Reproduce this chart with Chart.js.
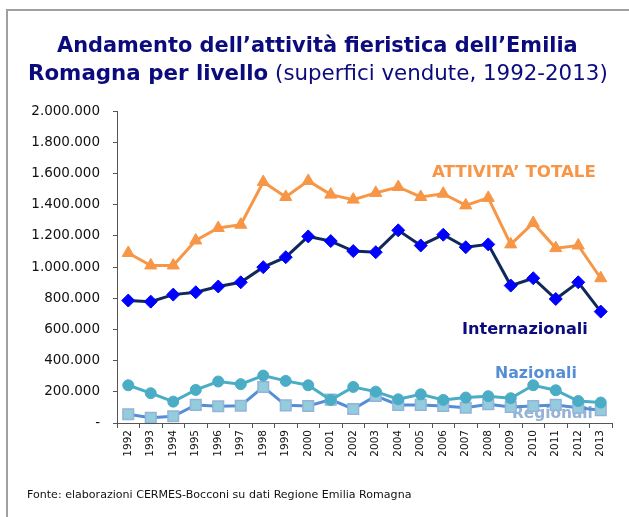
<!DOCTYPE html>
<html>
<head>
<meta charset="utf-8">
<script src="https://cdn.jsdelivr.net/npm/chart.js@4.4.1/dist/chart.umd.min.js"></script>
<style>
  html, body { margin:0; padding:0; background:#fff; }
  #wrap { position:relative; width:629px; height:517px; overflow:hidden; }
  #frame { position:absolute; left:6px; top:9px; width:640px; height:540px; border-left:2px solid #a0a0a0; border-top:2px solid #a0a0a0; }
  canvas { position:absolute; left:0; top:0; }
  .t { position:absolute; white-space:nowrap; font-family:"DejaVu Sans", Verdana, sans-serif; color:#0b0b7d; line-height:1; }
  #t1 { font-weight:bold; }
  #src { font-family:"DejaVu Sans", Tahoma, sans-serif; color:#111; }
</style>
</head>
<body>
<div id="wrap">
  <div id="frame"></div>
  <canvas id="c" width="629" height="517"></canvas>
  <div class="t" id="t1">Andamento dell’attività fieristica dell’Emilia</div>
  <div class="t" id="t2"><b>Romagna per livello</b> (superfici vendute, 1992-2013)</div>
  <div class="t" id="src">Fonte: elaborazioni CERMES-Bocconi su dati Regione Emilia Romagna</div>
</div>
<script>
const years = ['1992','1993','1994','1995','1996','1997','1998','1999','2000','2001','2002','2003','2004','2005','2006','2007','2008','2009','2010','2011','2012','2013'];
const totale = [1090000,1010000,1010000,1170000,1250000,1271000,1545000,1449000,1552000,1464000,1432000,1475000,1513000,1449000,1470000,1395000,1443000,1145000,1282000,1121000,1138000,928000];
const internazionali = [785000,778000,823000,838000,875000,902000,999000,1063000,1196000,1166000,1102000,1095000,1235000,1138000,1207000,1127000,1145000,881000,928000,795000,902000,714000];
const nazionali = [242000,191000,137000,212000,266000,249000,304000,270000,242000,148000,231000,201000,152000,184000,148000,163000,172000,159000,242000,210000,141000,131000];
const regionali = [56000,34000,43000,116000,107000,111000,231000,113000,109000,150000,90000,174000,116000,116000,109000,98000,120000,103000,109000,116000,98000,82000];
const yTicks = [0,200000,400000,600000,800000,1000000,1200000,1400000,1600000,1800000,2000000];

// series labels: text, anchor (category index, value), target width, colour
const seriesLabels = [
  {text:'ATTIVITA’ TOTALE', xi:17.14, v:1602000, w:164, color:'#f79646'},
  {text:'Internazionali',   xi:17.63, v:599000,  w:126, color:'#0b0b7d'},
  {text:'Nazionali',        xi:18.12, v:313000,  w:82,  color:'#558ed5'},
  {text:'Regionali',        xi:18.85, v:56000,   w:81,  color:'#95b3d7'}
];

function fmt(v){ if(v===0) return '-'; return String(v).replace(/\B(?=(\d{3})+(?!\d))/g,'.'); }

const labelPlugin = {
  id:'seriesLabels',
  beforeDatasetsDraw(chart){
    const ctx = chart.ctx, xs = chart.scales.x, ys = chart.scales.y;
    const step = xs.getPixelForValue(1) - xs.getPixelForValue(0);
    seriesLabels.forEach(l=>{
      ctx.save();
      ctx.font = 'bold 16px "DejaVu Sans"';
      const m = ctx.measureText(l.text).width;
      const size = 16 * l.w / m;
      ctx.font = 'bold ' + size.toFixed(2) + 'px "DejaVu Sans"';
      ctx.fillStyle = l.color;
      ctx.textAlign = 'center';
      ctx.textBaseline = 'middle';
      const x = xs.getPixelForValue(0) + l.xi * step;
      ctx.fillText(l.text, x, ys.getPixelForValue(l.v));
      ctx.restore();
    });
  }
};

new Chart(document.getElementById('c'), {
  type:'line',
  data:{
    labels: years,
    datasets:[
      {label:'ATTIVITA’ TOTALE', data:totale, borderColor:'#f79646', backgroundColor:'#f79646', borderWidth:3, pointStyle:'triangle', pointRadius:7, pointBorderWidth:1, pointBorderColor:'#f79646'},
      {label:'Internazionali', data:internazionali, borderColor:'#10285a', backgroundColor:'#0000ff', borderWidth:3, pointStyle:'rectRot', pointRadius:6.5, pointBorderWidth:1, pointBorderColor:'#0000ff'},
      {label:'Nazionali', data:nazionali, borderColor:'#4bacc6', backgroundColor:'#4bacc6', borderWidth:3, pointStyle:'circle', pointRadius:5.5, pointBorderWidth:1, pointBorderColor:'#4bacc6'},
      {label:'Regionali', data:regionali, borderColor:'#558ed5', backgroundColor:'#93cddd', borderWidth:3, pointStyle:'rect', pointRadius:7.5, pointBorderWidth:1.5, pointBorderColor:'#95b3d7'}
    ]
  },
  options:{
    responsive:false,
    animation:false,
    devicePixelRatio:1,
    layout:{padding:{top:111, right:17, left:0, bottom:0}},
    plugins:{legend:{display:false}, title:{display:false}, tooltip:{enabled:false}},
    elements:{line:{tension:0}},
    scales:{
      x:{
        offset:true,
        grid:{offset:true, drawOnChartArea:false, drawTicks:true, tickLength:5, tickColor:'#555', lineWidth:1},
        border:{display:true, color:'#555', width:1},
        ticks:{maxRotation:90, minRotation:90, autoSkip:false, padding:2, color:'#111', font:{family:'"DejaVu Sans"', size:10.5}},
        afterFit(s){ s.height = 94; }
      },
      y:{
        min:0, max:2000000,
        afterBuildTicks(s){ s.ticks = yTicks.map(v=>({value:v})); },
        grid:{drawOnChartArea:false, drawTicks:true, tickLength:4, tickColor:'#555'},
        border:{display:true, color:'#555', width:1},
        ticks:{padding:13, color:'#111', font:{family:'"DejaVu Sans"', size:13.5}, callback:(v)=>fmt(v)},
        afterFit(s){ s.width = 117; }
      }
    }
  },
  plugins:[labelPlugin]
});

function fit(id, targetW, left, top, base){
  const el = document.getElementById(id);
  el.style.fontSize = base + 'px';
  const w = el.getBoundingClientRect().width;
  const size = base * targetW / w;
  el.style.fontSize = size + 'px';
  el.style.left = left + 'px';
  el.style.top = top + 'px';
}
fit('t1', 521, 57, 35, 20);
fit('t2', 580, 28, 62, 20);
fit('src', 385, 27, 489, 12);
</script>
</body>
</html>
